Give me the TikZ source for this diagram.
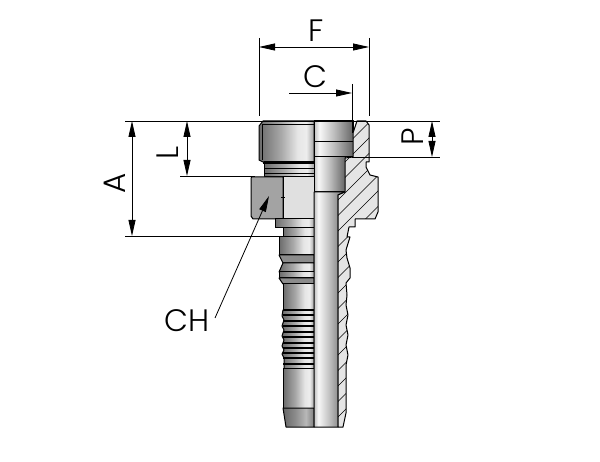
\documentclass[tikz,border=0pt]{standalone}
\usepackage{fontspec}
\setmainfont{Liberation Sans}
\newfontfamily\labelfont{Poppins Light}
\usetikzlibrary{arrows.meta}
\pgfdeclarehorizontalshading{metal}{100bp}{color(0bp)=(black!58); color(25bp)=(black!58); color(45bp)=(black!34); color(60bp)=(black!10); color(68bp)=(black!7); color(75bp)=(black!36); color(100bp)=(black!36)}
\pgfdeclarehorizontalshading{metaldark}{100bp}{color(0bp)=(black!60); color(25bp)=(black!60); color(45bp)=(black!45); color(62bp)=(black!28); color(75bp)=(black!50); color(100bp)=(black!50)}
\pgfdeclarehorizontalshading{bore}{100bp}{color(0bp)=(black!25); color(25bp)=(black!25); color(32bp)=(black!3); color(50bp)=(black!25); color(75bp)=(black!60); color(100bp)=(black!60)}
\tikzset{
  x=1pt,y=-1pt,
  outline/.style={draw=black,line width=1pt,line join=round},
  metalpart/.style={outline,shading=metal},
  darkpart/.style={outline,shading=metaldark},
  borepart/.style={outline,shading=bore},
  dimline/.style={draw=black,line width=0.8pt},
  dimarrow/.style={dimline,{Stealth[length=16pt,width=7pt,inset=0pt]}-{Stealth[length=16pt,width=7pt,inset=0pt]}},
  onearrow/.style={dimline,-{Stealth[length=16pt,width=7pt,inset=0pt]}},
  dimlabel/.style={font=\labelfont\fontsize{31}{31}\selectfont,inner sep=0pt},
  hatchline/.style={draw=black,line width=0.7pt}
}
\def\sectionpath{(357,121) -- (366,121) -- (369,125) -- (369,162) -- (366,162) -- (366,167) -- (370,175) -- (378,177) -- (378,212) -- (375,219) -- (355,219) -- (355,227) -- (349,227) -- (347,237) -- (350,237) -- (346,250) -- (347,258) -- (350,268) -- (350,278) -- (346,283) -- (347,295) -- (346,305) -- (348,315) -- (346,325) -- (348,335) -- (346,345) -- (348,355) -- (346,365) -- (346,413) -- (343,427) -- (338,427) -- (338,195) -- (345,192) -- (345,158) -- (353,157) -- (353,133) -- cycle}
\begin{document}
\begin{tikzpicture}
\useasboundingbox[fill=white] (0,0) rectangle (600,462);
% left half: body
\path[metalpart] (263,121) -- (314,121) -- (314,162) -- (263,162) -- (259,160) -- (259,126) -- cycle;
\path[metalpart] (264,162) -- (314,162) -- (314,177) -- (264,177) -- cycle;
\draw[line width=0.9pt] (262,124) -- (314,124);
\draw[line width=2pt] (263,163) -- (314,163);
\draw[line width=0.8pt] (264,168) -- (314,168);
\draw[line width=0.8pt] (264,173) -- (314,173);
\draw[line width=0.6pt] (262,124) -- (262,160);
% hexagon
\path[outline,fill=black!36] (251,178) -- (252,177) -- (283,177) -- (283,219) -- (253,219) -- (251,216) -- cycle;
\path[outline,fill=black!12] (283,177) -- (314,177) -- (314,219) -- (283,219) -- cycle;
\draw[line width=1pt] (281,198) -- (285,198);
% collar under hex
\path[metalpart] (275,219) -- (314,219) -- (314,228) -- (275,228) -- cycle;
\path[metalpart] (283,228) -- (314,228) -- (314,237) -- (283,237) -- cycle;
% stem
\path[metalpart] (279,237) -- (314,237) -- (314,255) -- (279,255) -- cycle;
\path[outline,fill=black!45] (279,255) -- (314,255) -- (314,263) -- (283,263) -- cycle;
\path[metalpart] (283,263) -- (314,263) -- (314,272) -- (279,272) -- cycle;
\path[metalpart] (279,272) -- (314,272) -- (314,278) -- (279,278) -- cycle;
\path[outline,fill=black!45] (279,278) -- (314,278) -- (314,284) -- (283,284) -- cycle;
\path[metalpart] (283,284) -- (314,284) -- (314,310) -- (283,310) -- cycle;
% threads
\path[metalpart] (283,310) -- (314,310) -- (314,369) -- (284,369) -- (284,358) -- (282,354) -- (284,350) -- (282,346) -- (284,340) -- (282,336) -- (284,330) -- (282,326) -- (284,320) -- (282,316) -- cycle;
\foreach \yy in {310,315,321,326,332,337,343,348,353,358,364,369}
  \draw[line width=1.5pt] (283,\yy) -- (314,\yy);
\path[metalpart] (283,369) -- (314,369) -- (314,408) -- (283,408) -- cycle;
\path[darkpart] (283,408) -- (314,408) -- (314,427) -- (286,427) -- cycle;
% right half: bores
\path[borepart] (314,121) -- (353,121) -- (353,142) -- (314,142) -- cycle;
\path[borepart] (314,142) -- (353,142) -- (353,157) -- (314,157) -- cycle;
\path[borepart] (314,157) -- (345,157) -- (345,192) -- (314,192) -- cycle;
\path[borepart] (314,192) -- (345,192) -- (338,195) -- (338,427) -- (314,427) -- cycle;
% hatched section
\path[fill=black!10] \sectionpath;
\begin{scope}
\clip \sectionpath;
\foreach \k in {0,1,...,22}
  \draw[hatchline] (330,{146+\k*15.5}) -- ++(60,-60);
\end{scope}
\path[outline] \sectionpath;
% dimension helpers
\coordinate (topL) at (125,121);
\coordinate (topR) at (440,121);
\coordinate (aL) at (125,236);
\coordinate (aR) at (280,236);
\coordinate (lL) at (180,176);
\coordinate (lR) at (255,176);
\coordinate (pL) at (352,157);
\coordinate (pR) at (440,157);
\coordinate (fLa) at (259,47);
\coordinate (fRa) at (369,47);
\coordinate (fLt) at (259,38);
\coordinate (fLb) at (259,116);
\coordinate (fRt) at (369,38);
\coordinate (fRb) at (369,116);
\coordinate (cS) at (289,93);
\coordinate (cE) at (352,93);
\coordinate (cT) at (352,84);
\coordinate (cB) at (352,133);
\coordinate (aT) at (132,121);
\coordinate (aB) at (132,236);
\coordinate (lT) at (187,121);
\coordinate (lB) at (187,176);
\coordinate (pT) at (432,121);
\coordinate (pB) at (432,157);
\coordinate (chTip) at (269,196);
\draw[dimline] (topL) -- (topR);
\draw[dimline] (aL) -- (aR);
\draw[dimline] (lL) -- (lR);
\draw[dimline] (pL) -- (pR);
\draw[dimline] (fLt) -- (fLb);
\draw[dimline] (fRt) -- (fRb);
\draw[dimline] (cT) -- (cB);
\draw[dimarrow] (fLa) -- (fRa);
\draw[onearrow] (cS) -- (cE);
\draw[dimarrow] (aT) -- (aB);
\draw[dimarrow] (lT) -- (lB);
\draw[dimarrow] (pT) -- (pB);
% labels
\node[dimlabel] (F) at (316,31) {F};
\node[dimlabel] (C) at (315,77) {C};
\node[dimlabel,rotate=90] (A) at (115,183) {A};
\node[dimlabel,rotate=90] (L) at (168,153) {L};
\node[dimlabel,rotate=90] (P) at (413,137) {P};
\node[dimlabel] (CH) at (187,321) {CH};
\coordinate (chS) at (215,318);
\draw[onearrow] (chS) -- (chTip);
\end{tikzpicture}
\end{document}
